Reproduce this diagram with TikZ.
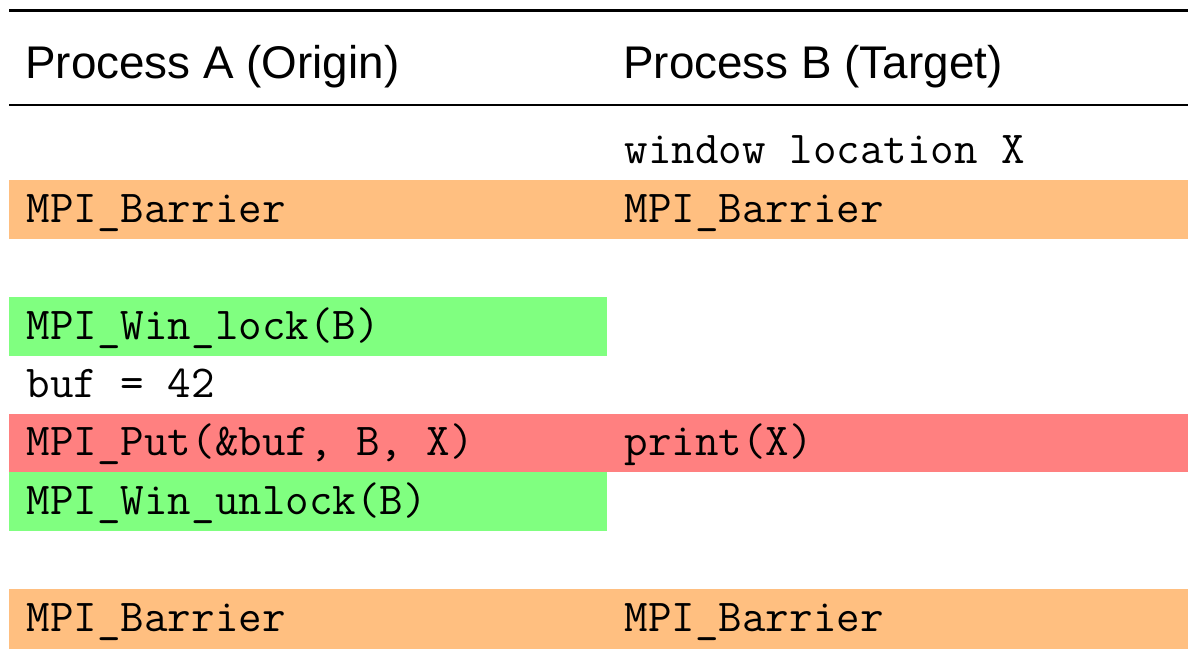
\documentclass[tikz,border=0pt]{standalone}
\usepackage{fontspec}
\newfontfamily\headfont{Liberation Sans}
\begin{document}
\begin{tikzpicture}[x=0.25pt,y=-0.25pt,
  cell/.style={anchor=base west,inner sep=0pt,font=\fontsize{11.42pt}{13pt}\selectfont\ttfamily},
  head/.style={anchor=base west,inner sep=0pt,font=\fontsize{11.45pt}{13pt}\selectfont\headfont},
  barrier/.style={fill=orange!50},
  lockband/.style={fill=green!50},
  conflict/.style={fill=red!50},
  toprule/.style={line width=0.62pt},
  midrule/.style={line width=0.42pt}]
\useasboundingbox (0,0) rectangle (1188,649);
% coloured row bands
\fill[barrier]  (9,180.4) rectangle (1188,238.8);
\fill[lockband] (9,297.2) rectangle (607,355.6);
\fill[conflict] (9,414)   rectangle (1188,472.4);
\fill[lockband] (9,472.4) rectangle (607,530.8);
\fill[barrier]  (9,589.2) rectangle (1188,649);
% table rules
\draw[toprule] (9,10.5) -- (1188,10.5);
\draw[midrule] (9,105) -- (1188,105);
% header
\node[head] (ha) at (24.5,78.5) {Process A (Origin)};
\node[head] (hb) at (622.5,78.5) {Process B (Target)};
% body
\node[cell] (winx)  at (624,164)   {window location X};
\node[cell] (bara)  at (26,222.4)  {MPI\_Barrier};
\node[cell] (barb)  at (624,222.4) {MPI\_Barrier};
\node[cell] (lock)  at (26,339.2)  {MPI\_Win\_lock(B)};
\node[cell] (buf)   at (26,397.6)  {buf = 42};
\node[cell] (put)   at (26,456)    {MPI\_Put(\&buf, B, X)};
\node[cell] (print) at (624,456)   {print(X)};
\node[cell] (unl)   at (26,514.4)  {MPI\_Win\_unlock(B)};
\node[cell] (barc)  at (26,631.2)  {MPI\_Barrier};
\node[cell] (bard)  at (624,631.2) {MPI\_Barrier};
\end{tikzpicture}
\end{document}
